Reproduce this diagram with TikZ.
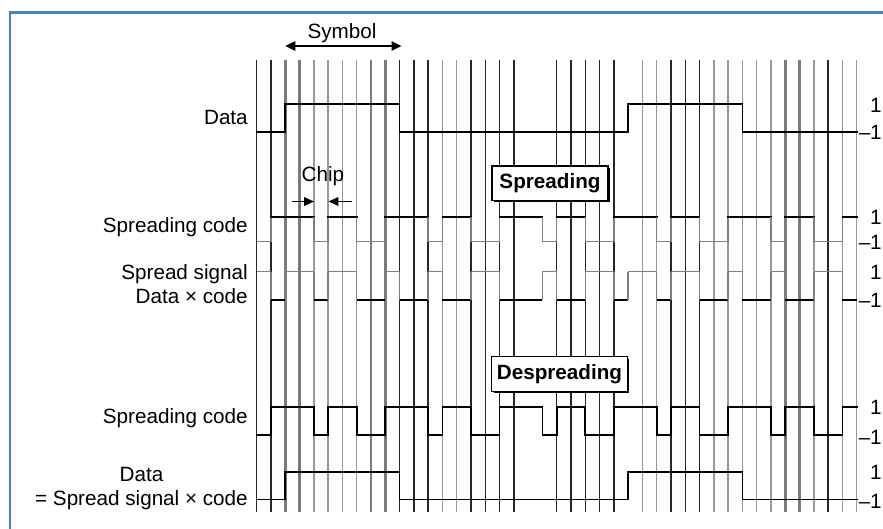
\documentclass[tikz,border=0pt]{standalone}
\usepackage{fontspec}
\setmainfont{Liberation Sans}
\usetikzlibrary{arrows.meta,shadows}
\definecolor{frameblue}{HTML}{4F81BD}
\def\datalist{-1,-1,1,1,1,1,1,1,1,1,-1,-1,-1,-1,-1,-1,-1,-1,-1,-1,-1,-1,-1,-1,-1,-1,1,1,1,1,1,1,1,1,-1,-1,-1,-1,-1,-1,-1,-1}
\def\codelist{-1,1,1,1,-1,1,1,-1,-1,1,1,1,-1,1,1,-1,-1,1,1,1,-1,1,1,-1,-1,1,1,1,-1,1,1,-1,-1,1,1,1,-1,1,1,-1,-1,1}
\def\spreadlist{1,-1,1,1,-1,1,1,-1,-1,1,-1,-1,1,-1,-1,1,1,-1,-1,-1,1,-1,-1,1,1,-1,1,1,-1,1,1,-1,-1,1,-1,-1,1,-1,-1,1,1,-1}
% #1 high y, #2 low y, #3 high style, #4 low style, #5 vertical style, #6 list
\newcommand\sigwave[6]{%
  \foreach \v [count=\i from 0, remember=\v as \pv (initially 0)] in #6 {%
    \ifnum\pv=0 \else\ifnum\pv=\v\else\draw[#5] (\i,#1) -- (\i,#2);\fi\fi
    \ifnum\v>0 \draw[#3] (\i,#1) -- (\i+1,#1);\else\draw[#4] (\i,#2) -- (\i+1,#2);\fi
  }%
}
\begin{document}
\begin{tikzpicture}[x=0.75pt,y=-0.75pt,
  txt/.style={font=\fontsize{15.5}{18}\selectfont, inner sep=0pt},
  lvl/.style={txt, anchor=east},
  gblack/.style={black!85, line width=1.1pt},
  glight/.style={black!40, line width=1pt},
  gdark/.style={black!52, line width=2pt},
  sigbk/.style={black, line width=1.2pt, line cap=rect},
  sigthick/.style={black, line width=1.8pt},
  siggray/.style={black!50, line width=1.1pt},
  boxlbl/.style={draw=black, line width=0.8pt, fill=white, inner sep=0pt,
    font=\fontsize{15.5}{18}\selectfont\bfseries,
    general shadow={fill=black, shadow xshift=1.3pt, shadow yshift=-1.3pt}},
  arr/.style={line width=1.1pt, -{Triangle[length=7.5pt,width=6.5pt]}},
  darr/.style={line width=1.2pt, {Triangle[length=7.5pt,width=7pt]}-{Triangle[length=7.5pt,width=7pt]}}]
\useasboundingbox (0,0) rectangle (883,529);
\fill[white] (0,0) rectangle (883,529);
\draw[frameblue, line width=2.2pt] (10,529) -- (10,12.5) -- (883,12.5);

% chip grid lines
\foreach \k in {4,5,6,7,13,14,27,28,32,33,34,35,36,39,41,42}
  \draw[glight] ({256.7+14.2857*\k},60) -- ++(0,451.7);
\foreach \k in {2,3,8,9,37,38}
  \draw[gdark] ({256.7+14.2857*\k},60) -- ++(0,451.7);
\foreach \k in {0,1,10,11,12,15,16,17,18,21,22,23,24,25,29,30,31,40}
  \draw[gblack] ({256.7+14.2857*\k},60) -- ++(0,451.7);

% waveforms
\begin{scope}[shift={(256.7,0)}, x=10.7143pt]
  \sigwave{104}{131.7}{sigbk}{sigbk}{sigbk}{\datalist}
  \sigwave{216.7}{241.7}{sigbk}{siggray}{siggray}{\codelist}
  \sigwave{271.7}{300}{siggray}{sigthick}{siggray}{\spreadlist}
  \sigwave{406.7}{435}{sigbk}{sigbk}{sigbk}{\codelist}
  \sigwave{471.7}{499.3}{sigbk}{sigbk}{sigbk}{\datalist}
\end{scope}

% boxes
\node[boxlbl, minimum width=87pt, minimum height=26pt] (spbox) at (550,183.3) {Spreading};
\node[boxlbl, minimum width=101.5pt, minimum height=26pt] (despbox) at (559.5,374.2) {Despreading};

% symbol and chip markers
\node[txt] (symbol) at (342,33) {Symbol};
\coordinate (symL) at (285.3,46);
\coordinate (symR) at (401.5,46);
\draw[darr] (symL) -- (symR);
\node[txt] (chip) at (323,176) {Chip};
\coordinate (chipA) at (291.5,201.5);
\coordinate (chipB) at (314,201.5);
\coordinate (chipC) at (352,201.5);
\coordinate (chipD) at (328.4,201.5);
\draw[arr] (chipA) -- (chipB);
\draw[arr] (chipC) -- (chipD);

% left labels
\node[lvl] (ldata) at (248,117) {Data};
\node[lvl] (lcode1) at (248,227) {Spreading code};
\node[lvl, align=right] (lspread) at (248,284) {Spread signal\\Data × code};
\node[lvl] (lcode2) at (248,418) {Spreading code};
\node[lvl, align=center] (lrec) at (248,489) {Data\\= Spread signal × code};

% right level labels
\node[lvl] (r1) at (882,105) {1};
\node[lvl] (r2) at (882,132) {–1};
\node[lvl] (r3) at (882,217) {1};
\node[lvl] (r4) at (882,242) {–1};
\node[lvl] (r5) at (882,272) {1};
\node[lvl] (r6) at (882,300) {–1};
\node[lvl] (r7) at (882,407) {1};
\node[lvl] (r8) at (882,437) {–1};
\node[lvl] (r9) at (882,472) {1};
\node[lvl] (r10) at (882,501) {–1};
\end{tikzpicture}
\end{document}
